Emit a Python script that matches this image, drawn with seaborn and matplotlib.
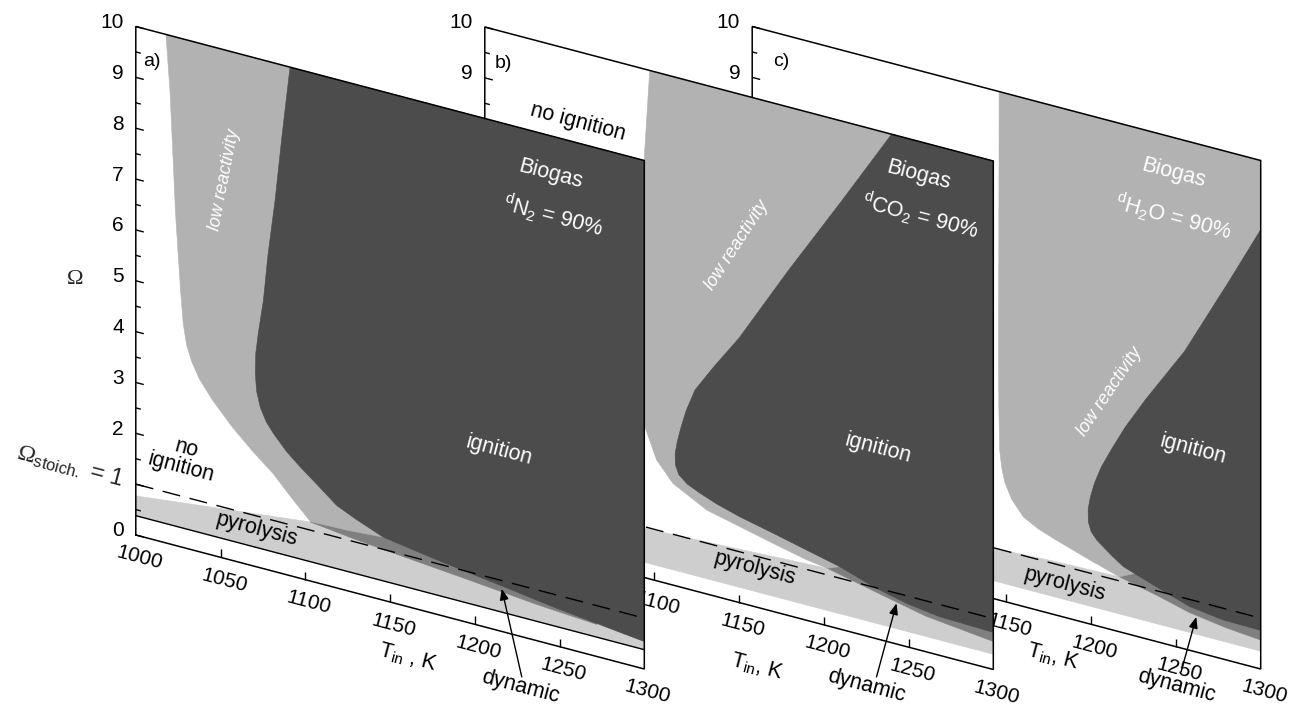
import numpy as np
import matplotlib
matplotlib.use("Agg")
import matplotlib.pyplot as plt
from matplotlib.transforms import Affine2D, offset_copy
from matplotlib.collections import LineCollection
import seaborn as sns

sns.set_theme(style="white")
plt.rcParams["font.family"] = ["Liberation Sans", "DejaVu Sans"]
plt.rcParams["mathtext.fontset"] = "custom"
plt.rcParams["mathtext.rm"] = "Liberation Serif"
plt.rcParams["mathtext.sf"] = "Liberation Sans"
plt.rcParams["mathtext.it"] = "Liberation Sans:italic"

# ---------------- axis ranges and ticks ----------------
T_RANGE = (1000, 1300)
OMEGA_RANGE = (0, 10)
T_TICKS = [1000, 1050, 1100, 1150, 1200, 1250, 1300]
OMEGA_TICKS = [0, 1, 2, 3, 4, 5, 6, 7, 8, 9, 10]
OMEGA_STOICH = 1.0

# ---------------- panel a: biogas, d_N2 = 90 % ----------------
a_low_T = [1017.8, 1020.2, 1023.5, 1026.5, 1028.0, 1030.0, 1033.0, 1037.5, 1045.0, 1057.0, 1069.0, 1081.0, 1093.0, 1103.0]
a_low_O = [10.0, 8.9, 6.5, 5.0, 4.4, 4.0, 3.7, 3.4, 3.06, 2.62, 2.25, 1.92, 1.50, 1.17]
a_low_base_T = [1125.0, 1146.0, 1300.0]
a_low_base_O = [1.19, 1.24, 3.0]
a_ign_T = [1091.0, 1086.3, 1082.2, 1078.0, 1075.3, 1072.3, 1070.8, 1070.5, 1071.3, 1073.5, 1077.0, 1081.2, 1089.0, 1097.0,
           1107.0, 1118.6, 1130.0, 1146.0, 1178.0, 1217.0, 1246.0, 1274.0, 1300.0]
a_ign_O = [10.0, 8.62, 7.31, 6.2, 5.28, 4.61, 4.2, 3.8, 3.45, 3.15, 2.9, 2.71, 2.42, 2.19,
           1.93, 1.62, 1.45, 1.24, 1.07, 0.89, 0.75, 0.64, 0.54]
a_dyn_T = [1103.0, 1130.0, 1158.0, 1197.0, 1237.0, 1272.0]
a_dyn_O = [1.16, 1.05, 0.96, 0.84, 0.71, 0.63]
a_dyn_cap_T = [1272.0, 1103.0]
a_dyn_cap_O = [1.5, 1.4]
a_pyr_T = [1000.0, 1050.0, 1103.0]
a_pyr_O = [0.77, 0.96, 1.16]
a_pyr_end = 0.62
a_pyr_floor = 0.38

# ---------------- panel b: biogas, d_CO2 = 90 % ----------------
b_low_T = [1097.3, 1094.0, 1090.5, 1089.0, 1089.5, 1091.5, 1094.4, 1101.3, 1111.0, 1131.0, 1150.0, 1170.0, 1190.0, 1202.0]
b_low_O = [10.0, 8.2, 6.5, 5.0, 4.0, 3.4, 2.97, 2.38, 2.0, 1.65, 1.5, 1.34, 1.19, 1.13]
b_low_base_T = [1215.0, 1300.0]
b_low_base_O = [1.30, 3.0]
b_ign_T = [1240.0, 1210.0, 1179.0, 1150.0, 1135.0, 1124.0, 1118.8, 1115.8, 1113.6, 1112.3, 1112.4, 1114.5, 1119.5,
           1126.8, 1137.0, 1150.4, 1170.0, 1190.0, 1209.0, 1229.0, 1249.0, 1268.0, 1300.0]
b_ign_O = [10.0, 8.4, 6.78, 5.2, 4.5, 3.95, 3.5, 3.15, 2.85, 2.6, 2.38, 2.2, 2.06,
           1.95, 1.82, 1.69, 1.54, 1.38, 1.23, 1.01, 0.85, 0.76, 0.73]
b_dyn_T = [1202.0, 1230.0, 1260.0, 1300.0]
b_dyn_O = [1.13, 0.92, 0.70, 0.55]
b_dyn_cap_T = [1300.0, 1202.0]
b_dyn_cap_O = [1.5, 1.5]
b_pyr_T = [1000.0, 1094.0, 1150.0, 1202.0]
b_pyr_O = [0.88, 0.97, 1.05, 1.13]
b_pyr_end = None
b_pyr_floor = 0.30

# ---------------- panel c: biogas, d_H2O = 90 % ----------------
c_low_T = [1145.7, 1145.5, 1145.3, 1145.5, 1146.0, 1147.3, 1149.0, 1153.0, 1160.0, 1169.0, 1179.0, 1199.0, 1216.7]
c_low_O = [10.0, 7.0, 5.0, 3.8, 2.95, 2.6, 2.35, 2.05, 1.76, 1.6, 1.48, 1.26, 1.08]
c_low_base_T = [1230.0, 1300.0]
c_low_base_O = [1.30, 3.0]
c_ign_T = [1300.0, 1281.6, 1255.0, 1232.0, 1220.0, 1212.0, 1206.0, 1202.0, 1199.5, 1198.2, 1198.3, 1200.0, 1203.5,
           1207.0, 1212.0, 1219.0, 1238.0, 1258.0, 1278.0, 1300.0]
c_ign_O = [8.64, 7.48, 5.85, 4.7, 4.05, 3.55, 3.15, 2.8, 2.5, 2.25, 2.0, 1.82, 1.68,
           1.59, 1.46, 1.3, 1.08, 0.86, 0.77, 0.76]
c_dyn_T = [1216.7, 1240.0, 1258.0, 1280.0, 1300.0]
c_dyn_O = [1.08, 0.90, 0.74, 0.63, 0.57]
c_dyn_cap_T = [1300.0, 1216.7]
c_dyn_cap_O = [1.5, 1.4]
c_pyr_T = [1000.0, 1143.0, 1179.0, 1216.7]
c_pyr_O = [0.88, 0.99, 1.05, 1.08]
c_pyr_end = None
c_pyr_floor = 0.35

# ---------------- colours ----------------
COL_IGN = "#4c4c4c"
COL_LOW = "#b2b2b2"
COL_PYR = "#cecece"
COL_DYN = "#7f7f7f"

# ---------------- canvas (pixel space) ----------------
W, H = 1297, 706
fig = plt.figure(figsize=(W / 100, H / 100), dpi=100)
ax = fig.add_axes([0, 0, 1, 1])

# oblique view of each (T, Omega) plane
PX_PER_K = 508.5 / 300.0
DROP_PER_K = 134.0 / 300.0
PX_PER_OMEGA = 50.85
SLANT = -np.degrees(np.arctan(DROP_PER_K / PX_PER_K))
TICK_FS = 15


def panel_transform(x0, y0):
    m = np.array([[PX_PER_K, 0.0, x0 - T_RANGE[0] * PX_PER_K],
                  [DROP_PER_K, -PX_PER_OMEGA, y0 - T_RANGE[0] * DROP_PER_K],
                  [0.0, 0.0, 1.0]])
    return Affine2D(m) + ax.transData


def fill(tr, T, O, color, z):
    ax.fill(T, O, transform=tr, facecolor=color, edgecolor=color, lw=0.4, zorder=z)


def draw_panel(p):
    tr = panel_transform(*p["origin"])
    z = p["z"]
    t0, t1 = T_RANGE
    o0, o1 = OMEGA_RANGE

    # opaque plane
    fill(tr, [t0, t1, t1, t0], [o0, o0, o1, o1], "white", z + 1)

    # pyrolysis band
    up_T = list(p["pyr_T"]) + list(p["dyn_T"][1:])
    up_O = list(p["pyr_O"]) + list(p["dyn_O"][1:])
    if p["pyr_end"] is not None:
        up_T.append(t1)
        up_O.append(p["pyr_end"])
    fill(tr, up_T + [t1, t0], up_O + [p["pyr_floor"], p["pyr_floor"]], COL_PYR, z + 2)

    # dynamic regime
    fill(tr, list(p["dyn_T"]) + list(p["dyn_cap_T"]),
         list(p["dyn_O"]) + list(p["dyn_cap_O"]), COL_DYN, z + 3)

    # low reactivity
    fill(tr, list(p["low_T"]) + list(p["low_base_T"]) + [t1],
         list(p["low_O"]) + list(p["low_base_O"]) + [o1], COL_LOW, z + 4)

    # ignition
    ign_T = list(p["ign_T"])
    ign_O = list(p["ign_O"])
    if ign_O[0] >= o1:
        ign_T.append(t1)
        ign_O.append(o1)
    fill(tr, ign_T, ign_O, COL_IGN, z + 5)

    # stoichiometric line
    sns.lineplot(x=[t0, t1], y=[OMEGA_STOICH, OMEGA_STOICH], ax=ax, transform=tr,
                 color="black", lw=1.0, linestyle=(0, (13, 7)), zorder=z + 6, legend=False)
    if p.get("floor_line"):
        sns.lineplot(x=[t0, t1], y=[p["pyr_floor"]] * 2, ax=ax, transform=tr,
                     color="black", lw=1.0, zorder=z + 6, legend=False)

    # frame
    ax.plot([t0, t1, t1, t0, t0], [o0, o0, o1, o1, o0], transform=tr,
            color="black", lw=1.1, zorder=z + 7, solid_joinstyle="miter")

    # ticks
    segs = []
    for om in np.arange(o0, o1 + 0.01, 0.5):
        length = 8.0 if abs(om - round(om)) < 1e-6 else 5.0
        segs.append([(t0, om), (t0 + length / PX_PER_K, om)])
    for t in T_TICKS[1:-1]:
        segs.append([(t, o0), (t, o0 + 8.0 / PX_PER_OMEGA)])
    ax.add_collection(LineCollection(segs, colors="black", linewidths=1.0,
                                     transform=tr, zorder=z + 7))

    ylab_tr = offset_copy(tr, fig=fig, x=-12, y=4, units="dots")
    for om in OMEGA_TICKS:
        if om in p.get("skip_ylabels", ()):
            continue
        ax.text(t0, om, f"{om}", transform=ylab_tr, ha="right", va="center",
                fontsize=TICK_FS, color="black", zorder=z + 8)
    xlab_tr = offset_copy(tr, fig=fig, x=3.5, y=-23, units="dots")
    for t in T_TICKS:
        ax.text(t, o0, f"{t}", transform=xlab_tr, ha="center", va="center",
                rotation=SLANT, rotation_mode="anchor", fontsize=TICK_FS, color="black",
                zorder=z + 8)

    def lab(pos, s, color="black", size=15.5, rot=SLANT, **kw):
        ax.text(pos[0], pos[1], s, transform=tr, ha="center", va="center",
                rotation=rot, rotation_mode="anchor", fontsize=size, color=color,
                zorder=z + 8, **kw)

    lab(p["tag_pos"], p["tag"], size=14, rot=0)
    lab(p["biogas_pos"], "Biogas", color="white")
    lab(p["dil_pos"], p["dil"], color="white")
    lab(p["ign_pos"], "ignition", color="white")
    lab(p["low_pos"], "low reactivity", color="white", size=13, rot=p["low_rot"],
        style="italic")
    lab(p["pyr_pos"], "pyrolysis")
    lab(p["dynlab_pos"], "dynamic")
    lab(p["xlabel_pos"], p["xlabel"])
    if "noign_pos" in p:
        lab(p["noign_pos"], p["noign"], linespacing=0.95)

    ax.annotate("", xy=p["arrow_tip"], xycoords=tr, xytext=p["arrow_tail"], textcoords=tr,
                arrowprops=dict(arrowstyle="-|>,head_length=0.55,head_width=0.22",
                                color="black", lw=1.0, shrinkA=0, shrinkB=0),
                zorder=z + 8)
    return tr, z


panel_c = dict(
    origin=(752.2, 535.0), z=0,
    low_T=c_low_T, low_O=c_low_O, low_base_T=c_low_base_T, low_base_O=c_low_base_O,
    ign_T=c_ign_T, ign_O=c_ign_O, dyn_T=c_dyn_T, dyn_O=c_dyn_O,
    dyn_cap_T=c_dyn_cap_T, dyn_cap_O=c_dyn_cap_O,
    pyr_T=c_pyr_T, pyr_O=c_pyr_O, pyr_end=c_pyr_end, pyr_floor=c_pyr_floor,
    tag="c)", tag_pos=(1017.4, 9.46),
    biogas_pos=(1248.4, 9.30), dil=r"$^{\mathsf{d}}$H$_{\mathsf{2}}$O = 90%", dil_pos=(1248.4, 8.44),
    ign_pos=(1260.2, 3.96), low_pos=(1211.1, 4.67), low_rot=56,
    pyr_pos=(1184.5, 0.64), dynlab_pos=(1250.4, -0.78),
    xlabel=r"T$_{\mathsf{in}}$, K", xlabel_pos=(1177.6, -0.83),
    arrow_tip=(1262.0, 0.69), arrow_tail=(1253.0, -0.47),
)

panel_b = dict(
    origin=(484.8, 535.5), z=100,
    low_T=b_low_T, low_O=b_low_O, low_base_T=b_low_base_T, low_base_O=b_low_base_O,
    ign_T=b_ign_T, ign_O=b_ign_O, dyn_T=b_dyn_T, dyn_O=b_dyn_O,
    dyn_cap_T=b_dyn_cap_T, dyn_cap_O=b_dyn_cap_O,
    pyr_T=b_pyr_T, pyr_O=b_pyr_O, pyr_end=b_pyr_end, pyr_floor=b_pyr_floor,
    tag="b)", tag_pos=(1010.9, 9.38),
    biogas_pos=(1256.2, 9.33), dil=r"$^{\mathsf{d}}$CO$_{\mathsf{2}}$ = 90%", dil_pos=(1256.8, 8.54),
    ign_pos=(1232.2, 3.75), low_pos=(1148.8, 7.02), low_rot=57,
    pyr_pos=(1159.4, 0.75), dynlab_pos=(1225.3, -0.99),
    xlabel=r"T$_{\mathsf{in}}$, K", xlabel_pos=(1160.4, -1.17),
    noign="no ignition", noign_pos=(1055.2, 8.62),
    arrow_tip=(1242.9, 0.80), arrow_tail=(1231.1, -0.75),
)

panel_a = dict(
    origin=(135.8, 535.0), z=200, floor_line=True, skip_ylabels=(1,),
    low_T=a_low_T, low_O=a_low_O, low_base_T=a_low_base_T, low_base_O=a_low_base_O,
    ign_T=a_ign_T, ign_O=a_ign_O, dyn_T=a_dyn_T, dyn_O=a_dyn_O,
    dyn_cap_T=a_dyn_cap_T, dyn_cap_O=a_dyn_cap_O,
    pyr_T=a_pyr_T, pyr_O=a_pyr_O, pyr_end=a_pyr_end, pyr_floor=a_pyr_floor,
    tag="a)", tag_pos=(1009.4, 9.39),
    biogas_pos=(1244.5, 9.25), dil=r"$^{\mathsf{d}}$N$_{\mathsf{2}}$ = 90%", dil_pos=(1246.1, 8.43),
    ign_pos=(1214.3, 3.55), low_pos=(1052.3, 7.44), low_rot=79,
    pyr_pos=(1071.5, 0.73), dynlab_pos=(1227.1, -0.99),
    xlabel=r"T$_{\mathsf{in}}$ , K", xlabel_pos=(1160.6, -1.01),
    noign="no\nignition", noign_pos=(1028.4, 1.76),
    arrow_tip=(1215.9, 0.84), arrow_tail=(1227.7, -0.79),
)

for panel in (panel_c, panel_b):
    draw_panel(panel)
tr_a, z_a = draw_panel(panel_a)

# axis titles of the front plane
ax.text(T_RANGE[0], 5, "Ω", transform=offset_copy(tr_a, fig=fig, x=-61, y=1, units="dots"),
        ha="center", va="center", fontsize=16, family="Liberation Serif", zorder=z_a + 9)
ax.text(T_RANGE[0], OMEGA_STOICH, r"$\Omega_{\mathsf{stoich.}}$ = 1",
        transform=offset_copy(tr_a, fig=fig, x=-12, y=4, units="dots"),
        ha="right", va="center", rotation=SLANT, rotation_mode="anchor",
        fontsize=17, zorder=z_a + 9)

ax.set_xlim(0, W)
ax.set_ylim(H, 0)
ax.set_xlabel("")
ax.set_ylabel("")
ax.axis("off")

fig.savefig("out.png", dpi=100)
